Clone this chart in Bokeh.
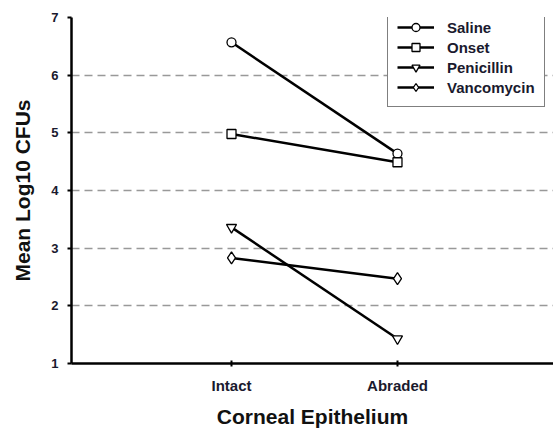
from bokeh.plotting import figure
from bokeh.models import FixedTicker, Legend, LegendItem, Range1d
from bokeh.embed import file_html
from bokeh.resources import INLINE

categories = ["Intact", "Abraded"]
series_names = ["Saline", "Onset", "Penicillin", "Vancomycin"]
saline = [6.57, 4.64]
onset = [4.98, 4.49]
penicillin = [3.36, 1.43]
vancomycin = [2.83, 2.47]
y_ticks = [1, 2, 3, 4, 5, 6, 7]

series_values = [saline, onset, penicillin, vancomycin]
markers = ["circle", "square", "inverted_triangle", "diamond"]
marker_sizes = [9, 9, 10, 12]

x = [i + 1 for i in range(len(categories))]

p = figure(width=553, height=430, output_backend="svg", toolbar_location=None,
           x_range=Range1d(0.036, 2.94), y_range=Range1d(1, 7),
           min_border_left=71, min_border_top=17, min_border_right=0,
           min_border_bottom=67)
p.outline_line_color = None
p.background_fill_color = "white"
p.border_fill_color = "white"

items = []
for name, vals, mk, ms in zip(series_names, series_values, markers, marker_sizes):
    r1 = p.line(x, vals, line_color="black", line_width=2.5)
    r2 = p.scatter(x, vals, marker=mk, size=ms, fill_color="white",
                   line_color="black", line_width=1.3)
    items.append(LegendItem(label=name, renderers=[r1, r2]))

legend = Legend(items=items, location=(316, 256))
legend.border_line_color = "black"
legend.border_line_width = 1.5
legend.background_fill_alpha = 1
legend.padding = 9
legend.margin = 0
legend.spacing = 0
legend.glyph_width = 37
legend.glyph_height = 20
legend.label_height = 20
legend.label_standoff = 13
legend.label_text_font = "Liberation Sans"
legend.label_text_font_style = "bold"
legend.label_text_font_size = "15px"
legend.label_text_color = "#1a1a2e"
p.add_layout(legend, "center")

# x axis
p.xaxis.ticker = FixedTicker(ticks=x)
p.xaxis.major_label_overrides = {xi: c for xi, c in zip(x, categories)}
p.xaxis.axis_label = "Corneal Epithelium"
p.xaxis.axis_label_text_font = "Liberation Sans"
p.xaxis.axis_label_text_font_style = "bold"
p.xaxis.axis_label_text_font_size = "21px"
p.xaxis.axis_label_text_color = "#111111"
p.xaxis.axis_label_standoff = 8
p.xaxis.major_label_text_font = "Liberation Sans"
p.xaxis.major_label_text_font_style = "bold"
p.xaxis.major_label_text_font_size = "15px"
p.xaxis.major_label_text_color = "#1a1a2e"
p.xaxis.major_label_standoff = 10
p.xaxis.axis_line_width = 2.5
p.xaxis.axis_line_color = "black"
p.xaxis.major_tick_in = 3
p.xaxis.major_tick_out = 3
p.xaxis.major_tick_line_width = 2
p.xaxis.minor_tick_line_color = None

# y axis
p.yaxis.ticker = FixedTicker(ticks=y_ticks)
p.yaxis.axis_label = "Mean Log10 CFUs"
p.yaxis.axis_label_text_font = "Liberation Sans"
p.yaxis.axis_label_text_font_style = "bold"
p.yaxis.axis_label_text_font_size = "21px"
p.yaxis.axis_label_text_color = "#111111"
p.yaxis.axis_label_standoff = 14
p.yaxis.major_label_text_font = "Liberation Sans"
p.yaxis.major_label_text_font_style = "bold"
p.yaxis.major_label_text_font_size = "13px"
p.yaxis.major_label_text_color = "#1a1a2e"
p.yaxis.major_label_standoff = 9
p.yaxis.axis_line_width = 2.5
p.yaxis.axis_line_color = "black"
p.yaxis.major_tick_in = 0
p.yaxis.major_tick_out = 4
p.yaxis.major_tick_line_width = 2
p.yaxis.minor_tick_line_color = None

p.xgrid.grid_line_color = None
p.ygrid.grid_line_color = "#999999"
p.ygrid.grid_line_width = 1.5
p.ygrid.grid_line_dash = "8 5"

open("out.html", "w").write(file_html(p, INLINE))
